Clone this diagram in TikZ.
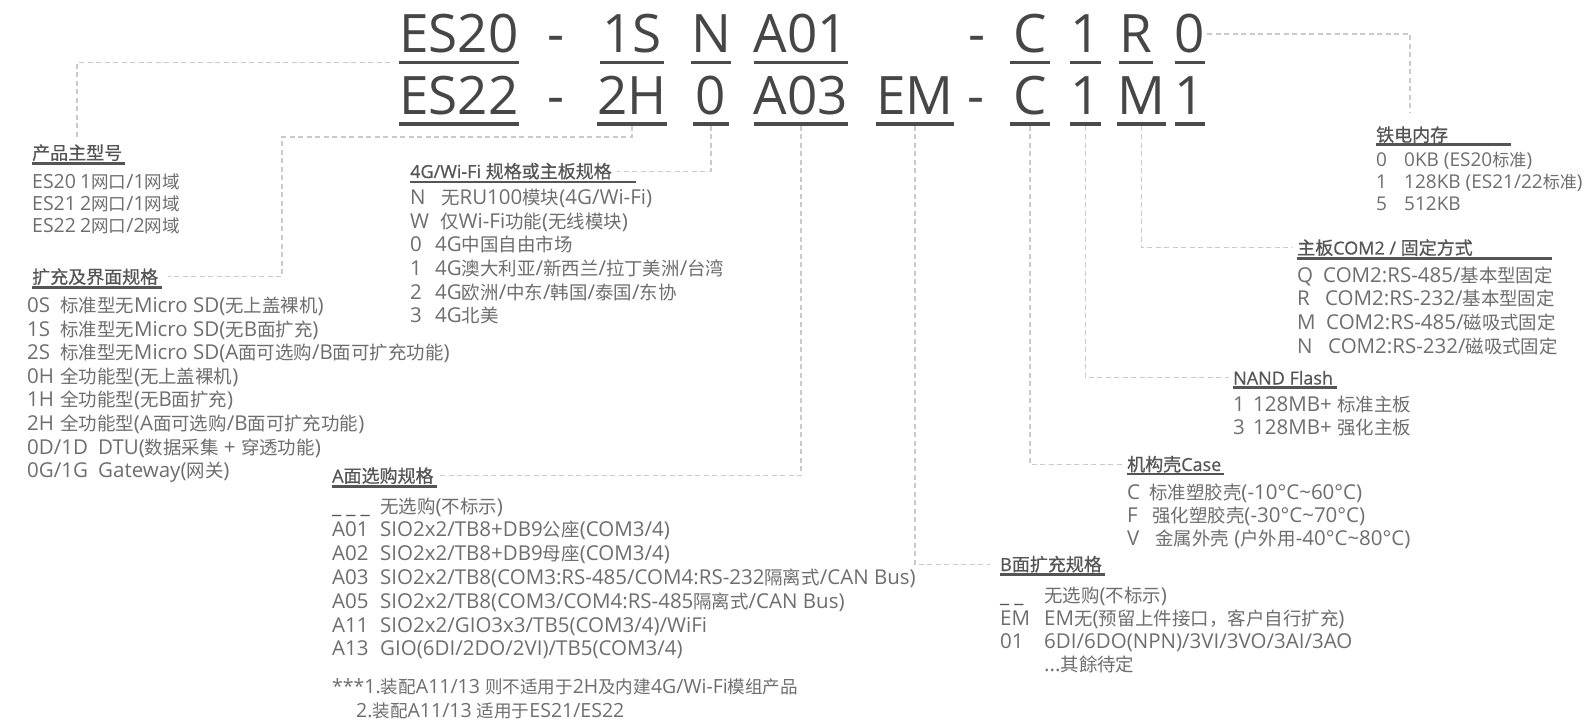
\documentclass[tikz,border=0pt]{standalone}
\usepackage{fontspec}
\setmainfont{Open Sans}
\newfontfamily\zhfont{Noto Sans CJK SC}[Scale=0.9]
\newfontfamily\zhhdrfont{Noto Sans CJK SC}[FakeBold=0.6]
\newfontfamily\hdrfont{Open Sans}[FakeBold=0.6]
\newfontfamily\codefont{Open Sans}
\let\zhswitch\zhfont
% Chinese runs pick their own font
\XeTeXinterchartokenstate=1
\chardef\zhclass=7
\newcount\zhcode
\zhcode="3000
\loop\XeTeXcharclass\zhcode=\zhclass\advance\zhcode by 1 \ifnum\zhcode<"3040 \repeat
\zhcode="4E00
\loop\XeTeXcharclass\zhcode=\zhclass\advance\zhcode by 1 \ifnum\zhcode<"A000 \repeat
\zhcode="FF00
\loop\XeTeXcharclass\zhcode=\zhclass\advance\zhcode by 1 \ifnum\zhcode<"FFF0 \repeat
\XeTeXinterchartoks 0 \zhclass = {\begingroup\zhswitch}
\XeTeXinterchartoks 4095 \zhclass = {\begingroup\zhswitch}
\XeTeXinterchartoks \zhclass 0 = {\endgroup}
\XeTeXinterchartoks \zhclass 4095 = {\endgroup}
\definecolor{codegray}{HTML}{464646}
\definecolor{ulgray}{HTML}{4B4B4B}
\definecolor{hdrgray}{HTML}{555555}
\definecolor{itemgray}{HTML}{6E6E6E}
\definecolor{leadgray}{HTML}{CACACA}
\newcommand\codeul[1]{\draw[ul] ([yshift=-9.5pt]#1.base west) -- ([yshift=-9.5pt]#1.base east);}
\newcommand\blanktwo{{\color{hdrgray}\_\hspace{5pt}\_}}
\newcommand\blankthree{{\color{hdrgray}\_\hspace{5pt}\_\hspace{5pt}\_}}
\begin{document}
\begin{tikzpicture}[x=1pt, y=-1pt,
    code/.style={font=\codefont\fontsize{53}{60}\selectfont, text=codegray, anchor=base, inner sep=0pt, minimum width=#1},
    code/.default=0pt,
    ul/.style={draw=ulgray, line width=3.5pt},
    hdr/.style={anchor=base west, inner sep=0pt, text=hdrgray, font=\fontsize{18}{22}\selectfont\hdrfont\let\zhswitch\zhhdrfont},
    hl/.style={draw=hdrgray, line width=2.5pt},
    item/.style={anchor=base west, inner sep=0pt, text=itemgray, font=\fontsize{20.5}{#1}\selectfont},
    item/.default=23.7,
    lead/.style={draw=leadgray, line width=1.2pt, dash pattern=on 5pt off 3.5pt}]
    \fill[white] (0,0) rectangle (1587,722);
    \useasboundingbox (0,0) rectangle (1587,722);
    % Model codes, first row
    \node[code=115pt] (prodA) at (459,53) {ES20};
    \node[code] (dashA) at (556,53) {-};
    \node[code=64pt] (ifA) at (632,53) {1S};
    \node[code=35pt] (netA) at (711,53) {N};
    \node[code=91pt] (aA) at (801,53) {A01};
    \node[code] (dashC) at (977.5,53) {-};
    \node[code=40pt] (caseA) at (1030,53) {C};
    \node[code=29pt] (flashA) at (1085.5,53) {1};
    \node[code=32pt] (comA) at (1136,53) {R};
    \node[code=30pt] (framA) at (1190,53) {0};
    % Model codes, second row
    \node[code=115pt] (prodB) at (459,114.5) {ES22};
    \node[code] (dashB) at (556,114.5) {-};
    \node[code=64pt] (ifB) at (632,114.5) {2H};
    \node[code=35pt] (netB) at (711,114.5) {0};
    \node[code=91pt] (aB) at (801,114.5) {A03};
    \node[code=68pt] (bB) at (915,114.5) {EM};
    \node[code] (dashD) at (976,114.5) {-};
    \node[code=40pt] (caseB) at (1030,114.5) {C};
    \node[code=29pt] (flashB) at (1085.5,114.5) {1};
    \node[code=43pt] (comB) at (1141.5,114.5) {M};
    \node[code=30pt] (framB) at (1190,114.5) {1};
    % Underlines of the codes
    \codeul{prodA} \codeul{ifA} \codeul{netA} \codeul{aA} \codeul{caseA} \codeul{flashA} \codeul{comA} \codeul{framA}
    \codeul{prodB} \codeul{ifB} \codeul{netB} \codeul{aB} \codeul{bB} \codeul{caseB} \codeul{flashB} \codeul{comB} \codeul{framB}

    % Product model
    \node[hdr] (hProd) at (32,159.5) {产品主型号};
    \draw[hl] ([yshift=-4pt]hProd.base west) -- ++(93,0);
    \node[item=22, font=\fontsize{19.5}{22}\selectfont] (prodList) at (32,188.5) {\begin{tabular}[t]{@{}l@{}}
        \makebox[48pt][l]{ES20}1网口/1网域\\
        \makebox[48pt][l]{ES21}2网口/1网域\\
        \makebox[48pt][l]{ES22}2网口/2网域
      \end{tabular}};

    % Expansion and interface
    \node[hdr] (hIf) at (32,283.5) {扩充及界面规格};
    \draw[hl] ([yshift=-4pt]hIf.base west) -- ++(130,0);
    \node[item=23.6] (ifList) at (27,312.5) {\begin{tabular}[t]{@{}l@{}}
        \makebox[33pt][l]{0S}标准型无Micro SD(无上盖裸机)\\
        \makebox[33pt][l]{1S}标准型无Micro SD(无B面扩充)\\
        \makebox[33pt][l]{2S}标准型无Micro SD(A面可选购/B面可扩充功能)\\
        \makebox[33pt][l]{0H}全功能型(无上盖裸机)\\
        \makebox[33pt][l]{1H}全功能型(无B面扩充)\\
        \makebox[33pt][l]{2H}全功能型(A面可选购/B面可扩充功能)\\
        \makebox[71pt][l]{0D/1D}DTU(数据采集 + 穿透功能)\\
        \makebox[71pt][l]{0G/1G}Gateway(网关)
      \end{tabular}};

    % 4G / Wi-Fi
    \node[hdr] (hNet) at (410,178) {4G/Wi-Fi 规格或主板规格};
    \draw[hl] ([yshift=-4pt]hNet.base west) -- ++(226,0);
    \node[item] (netList) at (410,204.5) {\begin{tabular}[t]{@{}l@{}}
        \makebox[31pt][l]{N}无RU100模块(4G/Wi-Fi)\\
        \makebox[30pt][l]{W}仅Wi-Fi功能(无线模块)\\
        \makebox[25pt][l]{0}4G中国自由市场\\
        \makebox[25pt][l]{1}4G澳大利亚/新西兰/拉丁美洲/台湾\\
        \makebox[25pt][l]{2}4G欧洲/中东/韩国/泰国/东协\\
        \makebox[25pt][l]{3}4G北美
      \end{tabular}};

    % Side A options
    \node[hdr] (hA) at (332,482.5) {A面选购规格};
    \draw[hl] ([yshift=-4pt]hA.base west) -- ++(105,0);
    \node[item=23.8] (aList) at (332,513) {\begin{tabular}[t]{@{}l@{}}
        \makebox[48pt][l]{\blankthree}无选购(不标示)\\
        \makebox[48pt][l]{A01}SIO2x2/TB8+DB9公座(COM3/4)\\
        \makebox[48pt][l]{A02}SIO2x2/TB8+DB9母座(COM3/4)\\
        \makebox[48pt][l]{A03}SIO2x2/TB8(COM3:RS-485/COM4:RS-232隔离式/CAN Bus)\\
        \makebox[48pt][l]{A05}SIO2x2/TB8(COM3/COM4:RS-485隔离式/CAN Bus)\\
        \makebox[48pt][l]{A11}SIO2x2/GIO3x3/TB5(COM3/4)/WiFi\\
        \makebox[48pt][l]{A13}GIO(6DI/2DO/2VI)/TB5(COM3/4)
      \end{tabular}};
    \node[item=24, font=\fontsize{19.5}{24}\selectfont] (aNote) at (332,693) {\begin{tabular}[t]{@{}l@{}}
        ***1.装配A11/13 则不适用于2H及内建4G/Wi-Fi模组产品\\
        \hspace{24pt}2.装配A11/13 适用于ES21/ES22
      \end{tabular}};

    % Side B expansion
    \node[hdr] (hB) at (1000,571) {B面扩充规格};
    \draw[hl] ([yshift=-3.5pt]hB.base west) -- ++(105,0);
    \node[item=23.3] (bList) at (1000,602) {\begin{tabular}[t]{@{}l@{}}
        \makebox[44pt][l]{\blanktwo}无选购(不标示)\\
        \makebox[44pt][l]{EM}EM无(预留上件接口，客户自行扩充)\\
        \makebox[44pt][l]{01}6DI/6DO(NPN)/3VI/3VO/3AI/3AO\\
        \makebox[44pt][l]{}...其餘待定
      \end{tabular}};

    % Case
    \node[hdr] (hCase) at (1127,471) {机构壳Case};
    \draw[hl] ([yshift=-3pt]hCase.base west) -- ++(97,0);
    \node[item=23] (caseList) at (1127,499) {\begin{tabular}[t]{@{}l@{}}
        \makebox[22pt][l]{C}标准塑胶壳(-10°C{\char"7E}60°C)\\
        \makebox[25pt][l]{F}强化塑胶壳(-30°C{\char"7E}70°C)\\
        \makebox[28pt][l]{V}金属外壳 (户外用-40°C{\char"7E}80°C)
      \end{tabular}};

    % NAND flash
    \node[hdr] (hFlash) at (1233,384.5) {NAND Flash};
    \draw[hl] ([yshift=-3pt]hFlash.base west) -- ++(104,0);
    \node[item=23] (flashList) at (1233,411) {\begin{tabular}[t]{@{}l@{}}
        \makebox[20pt][l]{1}128MB+ 标准主板\\
        \makebox[20pt][l]{3}128MB+ 强化主板
      \end{tabular}};

    % COM2 and mounting
    \node[hdr] (hCom) at (1297,254.5) {主板COM2 / 固定方式};
    \draw[hl] ([yshift=-4pt]hCom.base west) -- ++(255,0);
    \node[item] (comList) at (1297,282) {\begin{tabular}[t]{@{}l@{}}
        \makebox[26pt][l]{Q}COM2:RS-485/基本型固定\\
        \makebox[28pt][l]{R}COM2:RS-232/基本型固定\\
        \makebox[29pt][l]{M}COM2:RS-485/磁吸式固定\\
        \makebox[31pt][l]{N}COM2:RS-232/磁吸式固定
      \end{tabular}};

    % FRAM
    \node[hdr] (hFram) at (1376,141.5) {铁电内存};
    \draw[hl] ([yshift=-3pt]hFram.base west) -- ++(135,0);
    \node[item=22, font=\fontsize{19}{22}\selectfont] (framList) at (1376,167) {\begin{tabular}[t]{@{}l@{}}
        \makebox[28pt][l]{0}0KB (ES20标准)\\
        \makebox[28pt][l]{1}128KB (ES21/22标准)\\
        \makebox[28pt][l]{5}512KB
      \end{tabular}};

    % Leader lines
    \coordinate (ifBend) at (282,137);
    \draw[lead] ([xshift=-9pt,yshift=-9.5pt]prodA.base west) -| ([xshift=45pt,yshift=6pt]hProd.north west);
    \draw[lead] ([yshift=-11.5pt]ifB.base) |- (ifBend) |- ([xshift=10pt]hIf.east);
    \draw[lead] ([yshift=-11.5pt]netB.base) |- ([xshift=5pt]hNet.east);
    \draw[lead] ([yshift=-11.5pt]aB.base) |- ([xshift=5pt]hA.east);
    \draw[lead] ([yshift=-11.5pt]bB.base) |- ([xshift=-10pt]hB.west);
    \draw[lead] ([yshift=-11.5pt]caseB.base) |- ([xshift=-3pt]hCase.west);
    \draw[lead] ([yshift=-11.5pt]flashB.base) |- ([xshift=-4pt]hFlash.west);
    \draw[lead] ([yshift=-11.5pt]comB.base) |- ([xshift=-4pt]hCom.west);
    \draw[lead] ([xshift=2pt]framA.east) -| ([xshift=34pt,yshift=13pt]hFram.north west);
\end{tikzpicture}
\end{document}
